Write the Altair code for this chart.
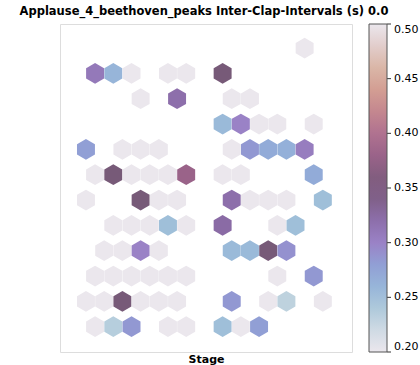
import altair as alt
import pandas as pd

# Hex cell centres (column index on the staggered lattice, row from the bottom)
# and the mean inter-clap interval (s) that each cell holds.
hex_col = [
    24,
    1, 3, 5, 9, 11, 15,
    6, 10, 16, 18,
    15, 17, 19, 21, 25,
    0, 4, 6, 8, 16, 18, 20, 22, 24,
    1, 3, 5, 7, 9, 11, 15, 17, 25,
    0, 6, 8, 10, 16, 18, 20, 22, 26,
    3, 5, 7, 9, 11, 15, 21, 23,
    2, 4, 6, 8, 16, 18, 20, 22,
    1, 3, 5, 7, 9, 11, 21, 25,
    0, 2, 4, 6, 8, 10, 16, 20, 22, 26,
    1, 3, 5, 9, 11, 15, 17, 19,
]
hex_row = (
    [12] * 1 + [11] * 6 + [10] * 4 + [9] * 5 + [8] * 9 + [7] * 9
    + [6] * 9 + [5] * 8 + [4] * 8 + [3] * 8 + [2] * 10 + [1] * 8
)
interval = [
    0.20,
    0.31, 0.26, 0.20, 0.20, 0.20, 0.35,
    0.20, 0.32, 0.20, 0.20,
    0.255, 0.30, 0.20, 0.20, 0.20,
    0.28, 0.20, 0.20, 0.20, 0.20, 0.285, 0.27, 0.265, 0.305,
    0.20, 0.35, 0.20, 0.20, 0.20, 0.38, 0.20, 0.20, 0.27,
    0.20, 0.35, 0.20, 0.20, 0.32, 0.20, 0.20, 0.20, 0.25,
    0.20, 0.20, 0.20, 0.25, 0.20, 0.325, 0.20, 0.25,
    0.20, 0.20, 0.30, 0.20, 0.255, 0.255, 0.35, 0.29,
    0.20, 0.20, 0.20, 0.20, 0.20, 0.20, 0.20, 0.285,
    0.20, 0.20, 0.35, 0.20, 0.20, 0.20, 0.285, 0.20, 0.23, 0.20,
    0.20, 0.235, 0.285, 0.20, 0.20, 0.25, 0.20, 0.28,
]

# Colorbar ticks
cbar_ticks = [0.20, 0.25, 0.30, 0.35, 0.40, 0.45, 0.50]

# Cyclic "twilight" palette, semi-transparent over white, sampled every 0.025 s
twilight_soft = [
    "#ebe7ed", "#c6d7e0", "#9fbfd9", "#91a5d7", "#9a82c6", "#8a6ba5",
    "#775a78", "#946087", "#b07290", "#c88d8f", "#d8aa97", "#ddc8c0",
    "#ebe7ed",
]
lo, hi = 0.20, 0.50
n = len(twilight_soft)
color_domain = [lo + (hi - lo) * i / (n - 1) for i in range(n)]

df = pd.DataFrame({"col": hex_col, "row": hex_row, "ici": interval})
ticks_df = pd.DataFrame({"tick": cbar_ticks})

hexagon = "M0,-1L0.866,-0.5L0.866,0.5L0,1L-0.866,0.5L-0.866,-0.5Z"

hexes = (
    alt.Chart(df)
    .mark_point(shape=hexagon, filled=True, opacity=1, size=430)
    .encode(
        x=alt.X(
            "col:Q",
            scale=alt.Scale(domain=[-2.85, 29.2], nice=False, zero=False),
            axis=alt.Axis(
                title="Stage", labels=False, ticks=False, domain=False,
                grid=False, titleFontSize=11, titleFontWeight="bold",
                titleFont="DejaVu Sans", titleColor="black", titlePadding=1,
            ),
        ),
        y=alt.Y(
            "row:Q",
            scale=alt.Scale(domain=[0, 12.95], nice=False, zero=False),
            axis=None,
        ),
        color=alt.Color(
            "ici:Q",
            scale=alt.Scale(domain=color_domain, range=twilight_soft, clamp=True),
            legend=alt.Legend(
                title=None, orient="none", legendX=309, legendY=0,
                direction="vertical", gradientLength=328, gradientThickness=18,
                gradientStrokeColor="#555", gradientStrokeWidth=1,
                values=cbar_ticks, format=".2f", labelFontSize=11,
                labelFont="DejaVu Sans", labelColor="black", labelOffset=7,
                labelBaseline="middle", padding=0,
            ),
        ),
    )
)

# Small tick marks on the right edge of the colorbar
cbar_tick_marks = (
    alt.Chart(ticks_df)
    .mark_rule(color="#333", strokeWidth=1)
    .encode(
        y=alt.Y("tick:Q", scale=alt.Scale(domain=[lo, hi], nice=False, zero=False),
                axis=None),
        x=alt.value(327),
        x2=alt.value(331),
    )
)

chart = (
    alt.layer(hexes, cbar_tick_marks)
    .resolve_scale(y="independent")
    .properties(
        width=292,
        height=328,
        title=alt.TitleParams(
            "Applause_4_beethoven_peaks Inter-Clap-Intervals (s) 0.0",
            fontSize=11.5, fontWeight="bold", font="DejaVu Sans",
            color="black", anchor="middle", offset=6, dx=-2,
        ),
        autosize=alt.AutoSizeParams(type="none"),
        padding={"left": 60, "top": 24, "right": 68, "bottom": 13},
    )
    .configure_view(stroke="#333", strokeWidth=1)
    .configure(background="white")
)

chart.save("out.html", embed_options={"renderer": "svg", "actions": False})
